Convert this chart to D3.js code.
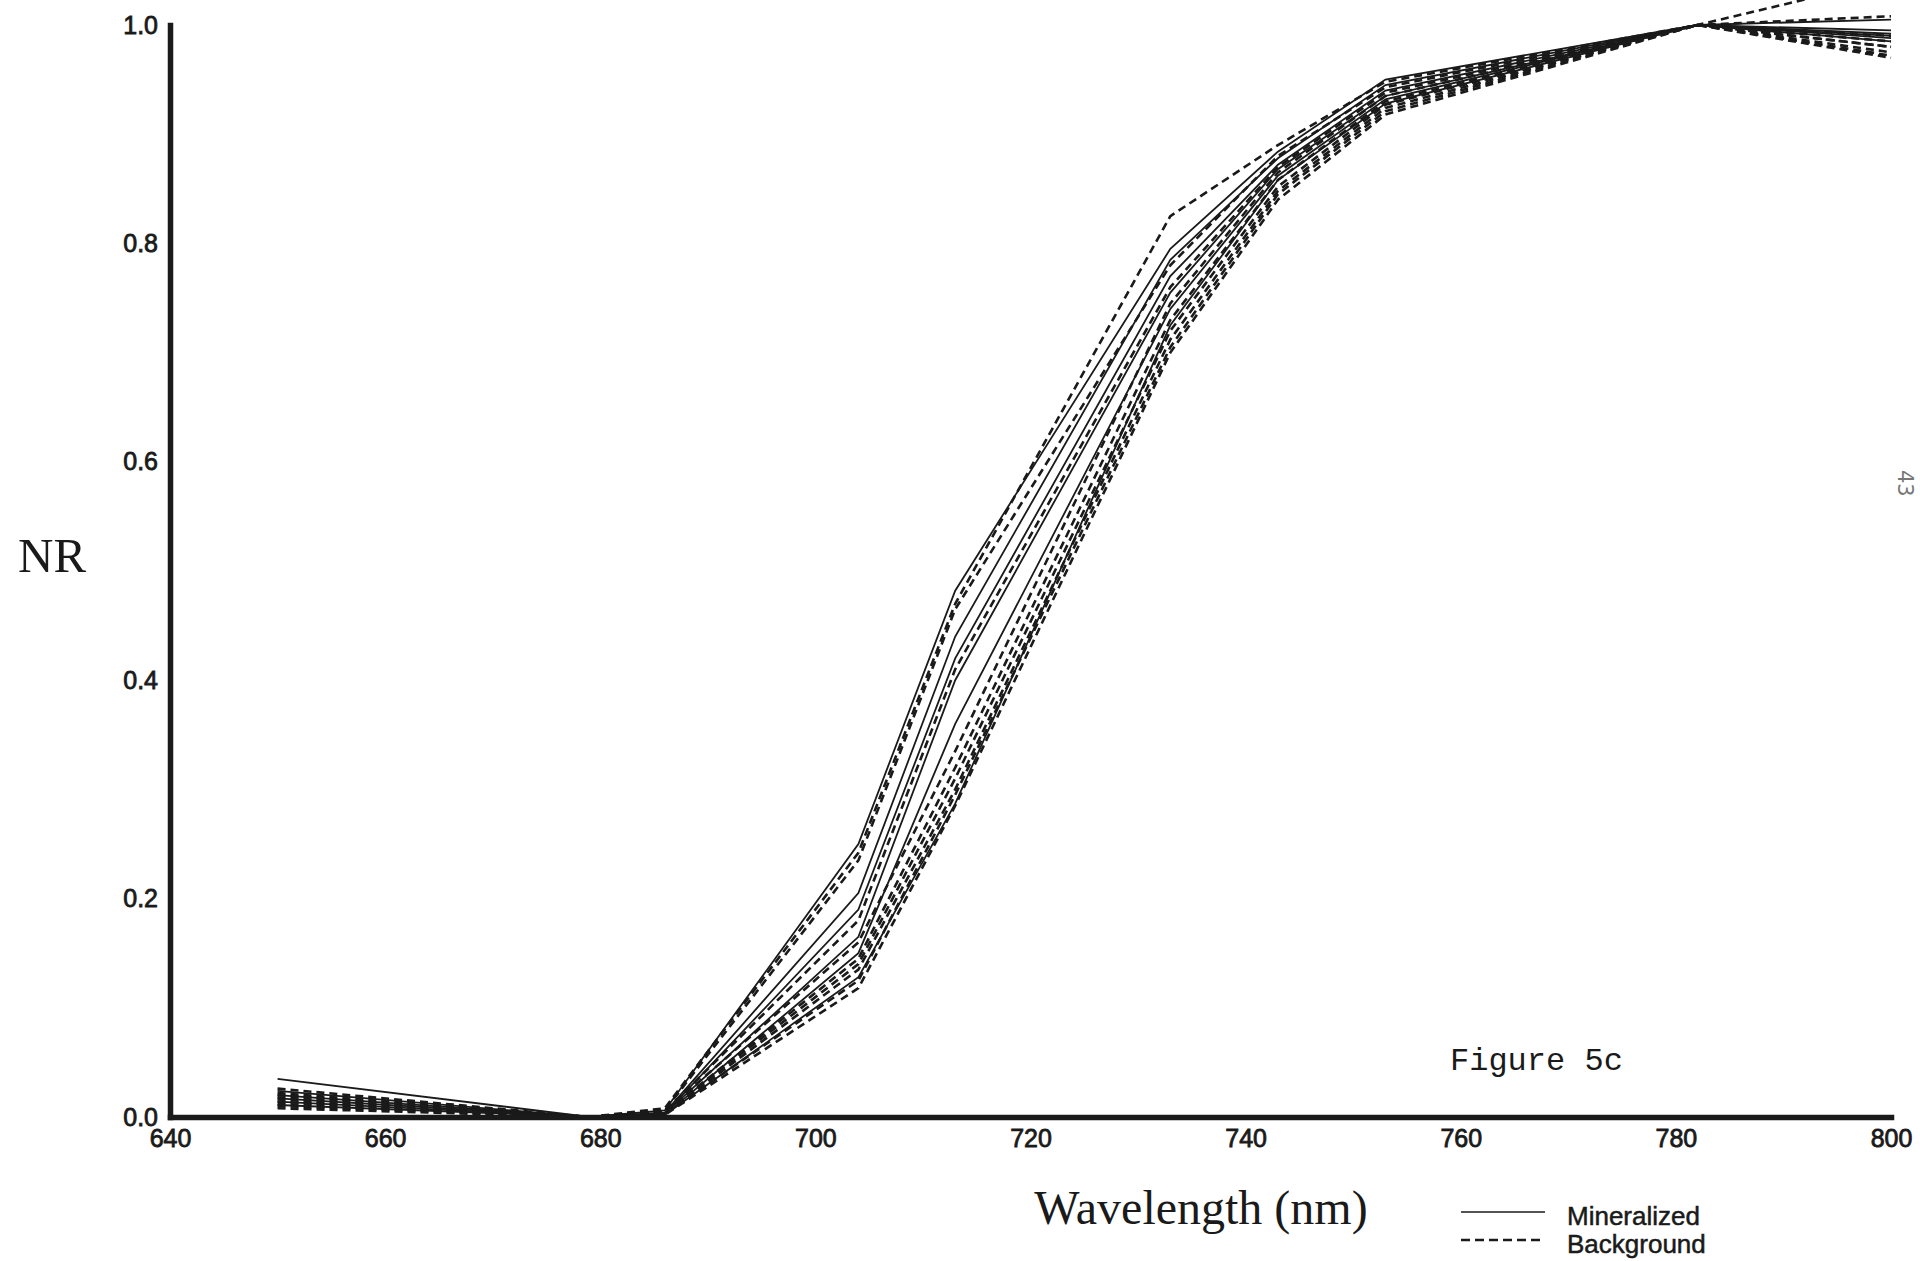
<!DOCTYPE html>
<html>
<head>
<meta charset="utf-8">
<script src="https://cdn.jsdelivr.net/npm/d3@7"></script>
<style>
  body { margin: 0; background: #fff; }
  svg { display: block; }
</style>
</head>
<body>
<div id="container"></div>
<script>
// band centres (nm) at which each spectrum was sampled
const wavelengths = [650, 679, 686, 704, 713, 733, 743, 753, 782, 800]

// normalized reflectance, mineralized sites (solid)
const mineralized = [
  [0.035, 0.000, 0.006, 0.250, 0.482, 0.795, 0.884, 0.950, 1.000, 0.990],
  [0.024, 0.000, 0.004, 0.205, 0.440, 0.785, 0.878, 0.945, 1.000, 1.005],
  [0.020, 0.000, 0.003, 0.190, 0.420, 0.770, 0.872, 0.940, 1.000, 0.992],
  [0.017, 0.000, 0.003, 0.165, 0.400, 0.755, 0.868, 0.935, 1.000, 0.988],
  [0.014, 0.000, 0.002, 0.150, 0.360, 0.740, 0.862, 0.932, 1.000, 0.995],
  [0.011, 0.000, 0.002, 0.128, 0.287, 0.725, 0.858, 0.928, 1.000, 0.985]
]

// normalized reflectance, background sites (dashed)
const background = [
  [0.026, 0.000, 0.008, 0.242, 0.470, 0.825, 0.890, 0.948, 1.000, 1.042],
  [0.022, 0.000, 0.006, 0.235, 0.465, 0.780, 0.880, 0.943, 1.000, 1.008],
  [0.020, 0.000, 0.005, 0.180, 0.410, 0.760, 0.870, 0.938, 1.000, 0.990],
  [0.018, 0.000, 0.005, 0.160, 0.335, 0.745, 0.865, 0.935, 1.000, 0.985],
  [0.016, 0.000, 0.004, 0.145, 0.320, 0.730, 0.858, 0.930, 1.000, 0.980],
  [0.014, 0.000, 0.004, 0.140, 0.310, 0.720, 0.852, 0.927, 1.000, 0.975],
  [0.012, 0.000, 0.003, 0.135, 0.300, 0.712, 0.848, 0.924, 1.000, 0.972],
  [0.010, 0.000, 0.003, 0.125, 0.295, 0.705, 0.845, 0.921, 1.000, 0.970],
  [0.008, 0.000, 0.002, 0.118, 0.285, 0.700, 0.840, 0.918, 1.000, 0.980]
]

const xTicks = [640, 660, 680, 700, 720, 740, 760, 780, 800]
const yTicks = [0.0, 0.2, 0.4, 0.6, 0.8, 1.0]
const legendItems = ['Mineralized', 'Background']

const w = 1920
const h = 1261
const plotLeft = 170
const plotRight = 1891
const plotTop = 25
const plotBottom = 1117

var svg = d3.select('div#container')
  .append('svg')
  .attr('width', w)
  .attr('height', h)
  .attr('viewBox', '0 0 ' + w + ' ' + h)

var x = d3.scaleLinear().domain([640, 800]).range([plotLeft, plotRight])
var y = d3.scaleLinear().domain([0, 1]).range([plotBottom, plotTop])

var line = d3.line()
  .x((d, i) => x(wavelengths[i]))
  .y(d => y(d))

var curves = svg.append('g').attr('fill', 'none').attr('stroke', '#1a1a1a')

curves.selectAll('path.bg')
  .data(background)
  .enter().append('path')
  .attr('class', 'bg')
  .attr('d', line)
  .attr('stroke-width', 2.6)
  .attr('stroke-dasharray', '8,5')

curves.selectAll('path.min')
  .data(mineralized)
  .enter().append('path')
  .attr('class', 'min')
  .attr('d', line)
  .attr('stroke-width', 1.8)

// axes: thick rules, no tick marks
svg.append('g')
  .attr('transform', 'translate(' + plotLeft + ',0)')
  .call(d3.axisLeft(y).tickValues(yTicks).tickFormat(d3.format('.1f')).tickSize(0).tickSizeOuter(0).tickPadding(12))

svg.append('g')
  .attr('transform', 'translate(0,' + plotBottom + ')')
  .call(d3.axisBottom(x).tickValues(xTicks).tickFormat(d3.format('d')).tickSize(0).tickSizeOuter(0).tickPadding(12))

svg.selectAll('.domain')
  .attr('stroke', '#1a1a1a')
  .attr('stroke-width', 5.5)
  .attr('stroke-linecap', 'square')

// scanned labels print heavier than a plain regular face
svg.selectAll('.tick text')
  .attr('fill', '#1a1a1a')
  .attr('stroke', '#1a1a1a')
  .attr('stroke-width', 0.8)
  .style('font-family', '"Liberation Sans", Arial, sans-serif')
  .style('font-size', '25px')

svg.append('text')
  .attr('x', 18)
  .attr('y', 572)
  .style('font-family', '"Liberation Serif", "Times New Roman", serif')
  .style('font-size', '49px')
  .attr('fill', '#1a1a1a')
  .text('NR')

svg.append('text')
  .attr('x', 1201)
  .attr('y', 1224)
  .style('text-anchor', 'middle')
  .style('font-family', '"Liberation Serif", "Times New Roman", serif')
  .style('font-size', '48px')
  .attr('fill', '#1a1a1a')
  .text('Wavelength (nm)')

svg.append('text')
  .attr('x', 1450)
  .attr('y', 1070)
  .style('font-family', '"Liberation Mono", "Courier New", monospace')
  .style('font-size', '32px')
  .attr('fill', '#1a1a1a')
  .text('Figure 5c')

var legend = svg.append('g').attr('transform', 'translate(1461,1212)')

var item = legend.selectAll('g')
  .data(legendItems)
  .enter().append('g')
  .attr('transform', (d, i) => 'translate(0,' + (i * 28) + ')')

item.append('line')
  .attr('x1', 0)
  .attr('x2', 84)
  .attr('stroke', '#1a1a1a')
  .attr('stroke-width', (d, i) => i ? 2.4 : 1.6)
  .attr('stroke-dasharray', (d, i) => i ? '9,5' : null)

item.append('text')
  .attr('x', 106)
  .attr('y', 13)
  .attr('stroke', '#1a1a1a')
  .attr('stroke-width', 0.5)
  .style('font-family', '"Liberation Sans", Arial, sans-serif')
  .style('font-size', '26px')
  .attr('fill', '#1a1a1a')
  .text(d => d)

// page number at the right edge of the scanned page
svg.append('text')
  .attr('transform', 'translate(1898,470) rotate(90)')
  .style('font-family', '"DejaVu Sans", sans-serif')
  .style('font-size', '21px')
  .attr('fill', '#777')
  .text('43')
</script>
</body>
</html>
